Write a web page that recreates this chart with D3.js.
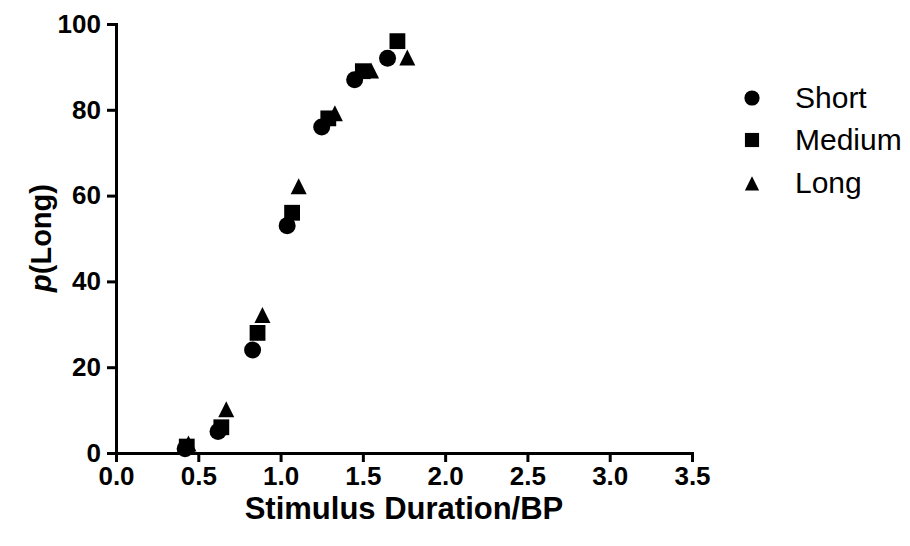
<!DOCTYPE html>
<html>
<head>
<meta charset="utf-8">
<script src="https://cdn.jsdelivr.net/npm/d3@7"></script>
<style>
  body { margin: 0; background: #fff; }
  svg { font-family: "Liberation Sans", Arial, sans-serif; }
</style>
</head>
<body>
<svg id="chart"></svg>
<script>
// values
let seriesNames = ["Short", "Medium", "Long"];
let shortX = [0.42, 0.62, 0.83, 1.04, 1.25, 1.45, 1.65];
let shortY = [1, 5, 24, 53, 76, 87, 92];
let mediumX = [0.43, 0.64, 0.86, 1.07, 1.29, 1.50, 1.71];
let mediumY = [1.5, 6, 28, 56, 78, 89, 96];
let longX = [0.44, 0.67, 0.89, 1.11, 1.33, 1.55, 1.77];
let longY = [2, 10, 32, 62, 79, 89, 92];
let xTicks = [0, 0.5, 1, 1.5, 2, 2.5, 3, 3.5];
let yTicks = [0, 20, 40, 60, 80, 100];

let width = 910, height = 546;
let svg = d3.select("#chart").attr("width", width).attr("height", height);

let scaleX = d3.scaleLinear().domain([0, 3.5]).range([116, 692]);
let scaleY = d3.scaleLinear().domain([0, 100]).range([453, 24]);

// taller-than-equilateral triangle like the original
let symbolTri = {
  draw: function(ctx, size) {
    let h = Math.sqrt(size);
    ctx.moveTo(0, -h * 0.55);
    ctx.lineTo(h / 2, h * 0.45);
    ctx.lineTo(-h / 2, h * 0.45);
    ctx.closePath();
  }
};
let symbols = [d3.symbolCircle, d3.symbolSquare, symbolTri];
let sizes = [227, 250, 256];

let series = [
  { name: seriesNames[0], x: shortX, y: shortY },
  { name: seriesNames[1], x: mediumX, y: mediumY },
  { name: seriesNames[2], x: longX, y: longY }
];

// axes
let axisX = d3.axisBottom(scaleX).tickValues(xTicks).tickFormat(d3.format(".1f")).tickSizeOuter(0).tickSize(9);
let axisY = d3.axisLeft(scaleY).tickValues(yTicks).tickSizeOuter(0).tickSize(9);

let gx = svg.append("g")
  .attr("class", "x-axis")
  .attr("transform", `translate(0, ${scaleY(0)})`)
  .call(axisX);
let gy = svg.append("g")
  .attr("class", "y-axis")
  .attr("transform", `translate(${scaleX(0)}, 0)`)
  .call(axisY);

svg.selectAll(".domain").attr("stroke", "#000").attr("stroke-width", 3);
svg.selectAll(".tick line").attr("stroke", "#000").attr("stroke-width", 3);
svg.selectAll(".tick text")
  .attr("fill", "#000")
  .style("font-size", "26px")
  .style("font-weight", "bold");
gx.selectAll(".tick text").attr("y", 13).attr("dy", "0.72em");
gy.selectAll(".tick text").attr("x", -15);

// axis titles
svg.append("text")
  .attr("x", 404)
  .attr("y", 519)
  .attr("text-anchor", "middle")
  .style("font-size", "31px")
  .style("font-weight", "bold")
  .text("Stimulus Duration/BP");

let yTitle = svg.append("text")
  .attr("transform", "translate(51, 238) rotate(-90)")
  .attr("text-anchor", "middle")
  .style("font-size", "29px")
  .style("font-weight", "bold");
yTitle.append("tspan").style("font-style", "italic").text("p");
yTitle.append("tspan").text("(Long)");

// points
series.forEach(function(s, i) {
  svg.selectAll(".pt" + i)
    .data(s.x.map((v, j) => [v, s.y[j]]))
    .enter()
    .append("path")
    .attr("class", "pt" + i)
    .attr("d", d3.symbol().type(symbols[i]).size(sizes[i]))
    .attr("transform", d => `translate(${scaleX(d[0])}, ${scaleY(d[1])})`)
    .attr("fill", "#000");
});

// legend
let legendY = [98, 140, 184];
series.forEach(function(s, i) {
  svg.append("path")
    .attr("d", d3.symbol().type(symbols[i]).size(sizes[i] * 0.8))
    .attr("transform", `translate(752, ${legendY[i]})`)
    .attr("fill", "#000");
});
let legendText = [108, 150, 193];
series.forEach(function(s, i) {
  svg.append("text")
    .attr("x", 795)
    .attr("y", legendText[i])
    .style("font-size", "30px")
    .text(s.name);
});
</script>
</body>
</html>
